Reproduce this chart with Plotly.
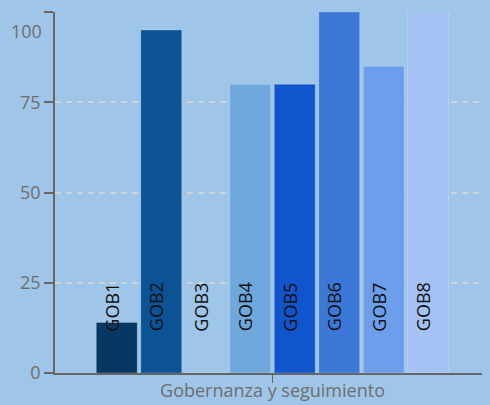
import plotly.graph_objects as go

categories = ["GOB1", "GOB2", "GOB3", "GOB4", "GOB5", "GOB6", "GOB7", "GOB8"]
values = [14, 95, 0, 80, 80, 100, 85, 100]
colors = ["#073763", "#0b5394", "#6fa8dc", "#6fa8dc", "#1155cc", "#3c78d8", "#6d9eeb", "#a4c2f4"]
group_label = "Gobernanza y seguimiento"
y_ticks = [0, 25, 50, 75, 100]
y_ticktext = ["0", "25", "50", "75", ""]

BG = "#9fc5e8"

fig = go.Figure()
fig.add_trace(go.Bar(
    x=categories, y=values,
    marker=dict(color=colors, line=dict(color="rgba(255,255,255,0.22)", width=1)),
    hoverinfo="x+y",
))

for c in categories:
    fig.add_annotation(x=c, y=18.3, xref="x", yref="y", text=c, textangle=-90,
                       showarrow=False, xshift=-5,
                       font=dict(family="Open Sans", size=18, color="#111111"))

# top tick label (drawn slightly below its tick, as in the reference)
fig.add_annotation(x=0, xref="paper", xanchor="right", xshift=-11, y=94.7, yref="y",
                   text="100", showarrow=False,
                   font=dict(family="Open Sans", size=18, color="#6e6e6e"))

fig.update_layout(
    width=482, height=397,
    margin=dict(l=47, r=0, t=4, b=32, autoexpand=False),
    paper_bgcolor=BG, plot_bgcolor=BG,
    bargap=0.08,
    showlegend=False,
    font=dict(family="Open Sans", color="#6e6e6e"),
)
fig.update_xaxes(
    type="category", automargin=False,
    range=[-1.388, 8.388],
    tickmode="array", tickvals=[3.5], ticktext=[group_label],
    ticks="outside", ticklen=8, tickcolor="#666666", tickwidth=1,
    ticklabelstandoff=-7,
    tickfont=dict(family="Open Sans", size=18, color="#6e6e6e"),
    showline=True, linecolor="#666666", linewidth=1.5,
    showgrid=False, zeroline=False, layer="below traces",
)
fig.update_yaxes(
    range=[0, 100], automargin=False,
    tickmode="array", tickvals=y_ticks, ticktext=y_ticktext,
    ticks="outside", ticklen=9, tickcolor="#666666", tickwidth=1.5,
    tickfont=dict(family="Open Sans", size=18, color="#6e6e6e"),
    showline=True, linecolor="#666666", linewidth=1.5,
    showgrid=True, gridcolor="rgba(215,215,215,0.8)", gridwidth=1.5, griddash="6px,5px",
    zeroline=False, layer="below traces",
)

fig.write_html("out.html", post_script=f"document.body.style.background='{BG}';")
